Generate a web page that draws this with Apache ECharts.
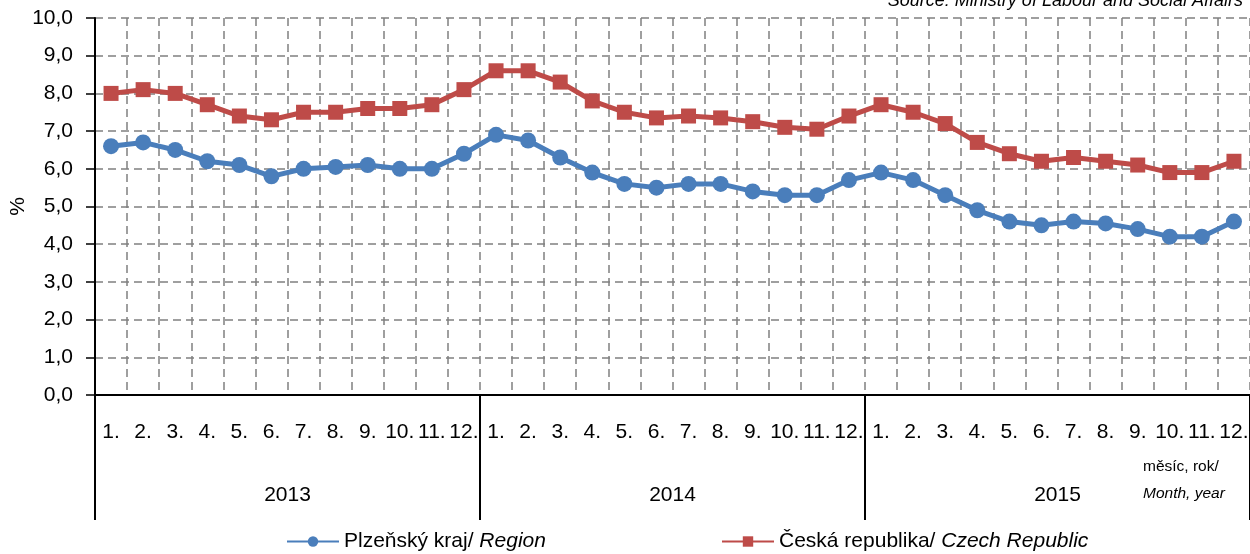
<!DOCTYPE html>
<html>
<head>
<meta charset="utf-8">
<script src="https://cdn.jsdelivr.net/npm/echarts@6/dist/echarts.min.js"></script>
<style>
  html, body { margin: 0; padding: 0; background: #fff; }
  #chart { width: 1250px; height: 554px; }
</style>
</head>
<body>
<div id="chart"></div>
<script>
// data
const years = ['2013', '2014', '2015'];
const months = ['1.', '2.', '3.', '4.', '5.', '6.', '7.', '8.', '9.', '10.', '11.', '12.'];
const plzen = [
  6.6, 6.7, 6.5, 6.2, 6.1, 5.8, 6.0, 6.05, 6.1, 6.0, 6.0, 6.4,
  6.9, 6.75, 6.3, 5.9, 5.6, 5.5, 5.6, 5.6, 5.4, 5.3, 5.3, 5.7,
  5.9, 5.7, 5.3, 4.9, 4.6, 4.5, 4.6, 4.55, 4.4, 4.2, 4.2, 4.6
];
const czech = [
  8.0, 8.1, 8.0, 7.7, 7.4, 7.3, 7.5, 7.5, 7.6, 7.6, 7.7, 8.1,
  8.6, 8.6, 8.3, 7.8, 7.5, 7.35, 7.4, 7.35, 7.25, 7.1, 7.05, 7.4,
  7.7, 7.5, 7.2, 6.7, 6.4, 6.2, 6.3, 6.2, 6.1, 5.9, 5.9, 6.2
];

const monthCats = [];
years.forEach(y => months.forEach(m => monthCats.push(y + '-' + m)));

const FONT = '"Liberation Sans", Arial, sans-serif';
const BLUE = '#4A7EBB';
const RED = '#BE4B48';

const chart = echarts.init(document.getElementById('chart'));

const legendBase = {
  top: 526,
  itemWidth: 52,
  itemHeight: 13,
  itemGap: 0,
  textStyle: {
    fontFamily: FONT, fontSize: 21, color: '#000',
    rich: { i: { fontFamily: FONT, fontSize: 21, fontStyle: 'italic', color: '#000' } }
  },
  formatter: name => name === 'Plzeňský kraj'
    ? 'Plzeňský kraj/ {i|Region}'
    : 'Česká republika/ {i|Czech Republic}'
};

chart.setOption({
  animation: false,
  textStyle: { fontFamily: FONT },
  grid: { left: 95, right: 0, top: 18, bottom: 159, containLabel: false, outerBoundsMode: 'none' },
  legend: [
    Object.assign({ left: 281, data: ['Plzeňský kraj'] }, legendBase),
    Object.assign({ left: 716, data: ['Česká republika'] }, legendBase)
  ],
  graphic: [
    {
      type: 'text', right: 7, top: -8,
      style: { text: 'Source: Ministry of Labour and Social Affairs', font: 'italic 18px ' + FONT, fill: '#000' }
    },
    {
      type: 'text', left: 1143, top: 459,
      style: { text: 'měsíc, rok/', font: '15.5px ' + FONT, fill: '#000' }
    },
    {
      type: 'text', left: 1143, top: 486,
      style: { text: 'Month, year', font: 'italic 15.5px ' + FONT, fill: '#000' }
    }
  ],
  xAxis: [
    {
      type: 'category',
      data: monthCats,
      position: 'bottom',
      boundaryGap: true,
      axisLine: { show: true, lineStyle: { color: '#000', width: 2 } },
      axisTick: { show: false },
      axisLabel: {
        interval: 0, margin: 27, color: '#000', fontSize: 21, fontFamily: FONT,
        formatter: v => v.split('-')[1]
      },
      splitLine: {
        show: true, interval: 0,
        lineStyle: { color: '#808080', width: 1.5, type: [8, 5] }
      }
    },
    {
      type: 'category',
      data: years,
      position: 'bottom',
      offset: 0,
      boundaryGap: true,
      axisLine: { show: false },
      axisTick: { show: true, interval: 0, length: 125, lineStyle: { color: '#000', width: 2 } },
      axisLabel: { interval: 0, margin: 90, color: '#000', fontSize: 21, fontFamily: FONT },
      splitLine: { show: false }
    }
  ],
  yAxis: {
    type: 'value',
    min: 0,
    max: 10,
    interval: 1,
    name: '%',
    nameLocation: 'middle',
    nameGap: 66,
    nameMoveOverlap: false,
    nameTextStyle: { color: '#000', fontSize: 21, fontFamily: FONT },
    axisLine: { show: true, lineStyle: { color: '#000', width: 2 } },
    axisTick: { show: true, length: 9, lineStyle: { color: '#000', width: 1.5 } },
    axisLabel: {
      margin: 22, color: '#000', fontSize: 21, fontFamily: FONT,
      formatter: v => v.toFixed(1).replace('.', ',')
    },
    splitLine: { show: true, lineStyle: { color: '#808080', width: 1.5, type: [8, 5] } }
  },
  series: [
    {
      name: 'Plzeňský kraj',
      type: 'line',
      xAxisIndex: 0,
      data: plzen,
      symbol: 'circle',
      symbolSize: 16,
      lineStyle: { color: BLUE, width: 5 },
      itemStyle: { color: BLUE }
    },
    {
      name: 'Česká republika',
      type: 'line',
      xAxisIndex: 0,
      data: czech,
      symbol: 'rect',
      symbolSize: 15,
      lineStyle: { color: RED, width: 5 },
      itemStyle: { color: RED }
    }
  ]
});
</script>
</body>
</html>
